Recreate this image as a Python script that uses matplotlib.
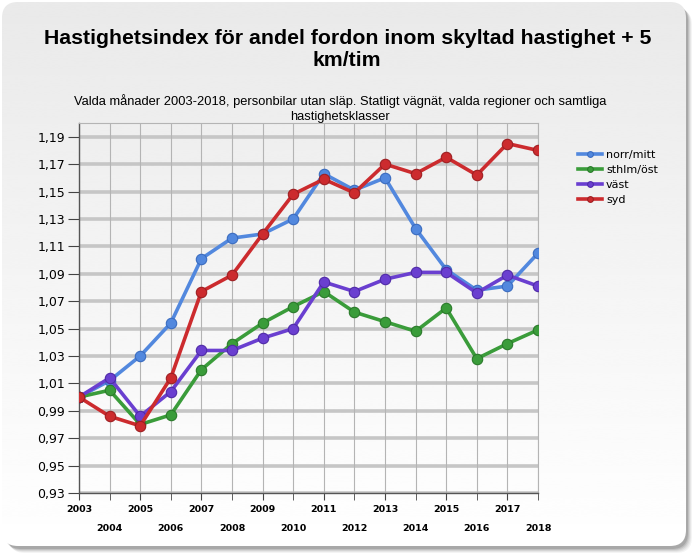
import matplotlib
matplotlib.use("Agg")
import matplotlib.pyplot as plt
import numpy as np
from matplotlib.patches import FancyBboxPatch
from matplotlib.ticker import FuncFormatter

years = list(range(2003, 2019))

norr_mitt = [1.000, 1.012, 1.030, 1.054, 1.101, 1.116, 1.119, 1.130,
             1.163, 1.151, 1.160, 1.123, 1.093, 1.078, 1.081, 1.105]
sthlm_ost = [1.000, 1.005, 0.980, 0.987, 1.020, 1.039, 1.054, 1.066,
             1.077, 1.062, 1.055, 1.048, 1.065, 1.028, 1.039, 1.049]
vast = [1.000, 1.014, 0.986, 1.004, 1.034, 1.034, 1.043, 1.050,
        1.084, 1.077, 1.086, 1.091, 1.091, 1.076, 1.089, 1.081]
syd = [1.000, 0.986, 0.979, 1.014, 1.077, 1.089, 1.119, 1.148,
       1.159, 1.149, 1.170, 1.163, 1.175, 1.162, 1.185, 1.180]

series_names = ["norr/mitt", "sthlm/öst", "väst", "syd"]
series_data = [norr_mitt, sthlm_ost, vast, syd]
line_colors = ["#5288de", "#3a9c3a", "#6a3fd0", "#cc2b2e"]
edge_colors = ["#3a6cc0", "#2a7a2a", "#4f2aa8", "#9e1f22"]

y_ticks = np.arange(0.93, 1.191, 0.02)

title = "Hastighetsindex för andel fordon inom skyltad hastighet + 5\nkm/tim"
subtitle = ("Valda månader 2003-2018, personbilar utan släp. Statligt vägnät, "
            "valda regioner och samtliga\nhastighetsklasser")

W, H = 700, 560
fig = plt.figure(figsize=(W / 100, H / 100), dpi=100)
fig.patch.set_facecolor("white")

# background panel with soft shadow and vertical gradient
bg = fig.add_axes([0, 0, 1, 1])
for i, a in enumerate([0.05, 0.07, 0.09, 0.12, 0.16]):
    off = 6 - i
    sh = FancyBboxPatch((3 + off, 3 + off), 683, 544,
                        boxstyle="round,pad=0,rounding_size=16",
                        fc="#303030", ec="none", alpha=a, zorder=1)
    bg.add_patch(sh)
panel = FancyBboxPatch((2, 2), 684, 544, boxstyle="round,pad=0,rounding_size=16",
                       fc="none", ec="none", zorder=2)
bg.add_patch(panel)
grad = np.linspace(0.915, 1.0, 256).reshape(-1, 1)
im = bg.imshow(grad, extent=(2, 686, 546, 2), cmap="gray", vmin=0, vmax=1,
               aspect="auto", interpolation="bicubic", zorder=3)
im.set_clip_path(panel)
bg.set_xlim(0, W)
bg.set_ylim(H, 0)
bg.axis("off")

fig.text(0.496, 0.911, title, ha="center", va="center", fontsize=15.3,
         fontweight="bold", family="Liberation Sans", linespacing=1.2)
fig.text(0.486, 0.806, subtitle, ha="center", va="center", fontsize=9.3,
         family="Liberation Sans", linespacing=1.3)

ax = fig.add_axes([79 / W, 1 - 493 / H, (538 - 79) / W, (493 - 123) / H])
ax.set_facecolor("none")

for name, vals, c, ec in zip(series_names, series_data, line_colors, edge_colors):
    ax.plot(years, vals, color=c, lw=2.6, marker="o", ms=7.5,
            mfc=c, mec=ec, mew=0.8, label=name, zorder=3)

ax.set_xlim(2003, 2018)
ax.set_ylim(0.93, 1.20)
ax.set_yticks(y_ticks)
ax.yaxis.set_major_formatter(FuncFormatter(lambda v, p: f"{v:.2f}".replace(".", ",")))
ax.grid(axis="y", color="#c6c6c6", lw=2.6, zorder=1)
ax.set_axisbelow(True)
for yr in years:
    ax.axvline(yr, color="#b4b4b4", lw=0.8, zorder=1)

ax.set_xticks(years[::2])
ax.set_xticklabels([str(y) for y in years[::2]])
ax.set_xticks(years[1::2], minor=True)
ax.set_xticklabels([str(y) for y in years[1::2]], minor=True)
ax.tick_params(axis="x", which="major", length=5, pad=4, labelsize=6.8,
               color="#444444")
ax.tick_params(axis="x", which="minor", length=5, pad=17, labelsize=6.8,
               color="#444444")
for lbl in ax.get_xticklabels(which="both"):
    lbl.set_fontweight("bold")
ax.tick_params(axis="y", length=8, pad=2, labelsize=9, color="#444444")

for s in ["left", "bottom"]:
    ax.spines[s].set_color("#555555")
    ax.spines[s].set_linewidth(1.0)
for s in ["top", "right"]:
    ax.spines[s].set_color("#b4b4b4")
    ax.spines[s].set_linewidth(0.8)

leg = ax.legend(loc="upper left", bbox_to_anchor=(1.065, 0.955), frameon=False,
                fontsize=8, handlelength=2.2, handletextpad=0.35,
                labelspacing=0.45, markerscale=0.55)

fig.savefig("out.png", dpi=100)
